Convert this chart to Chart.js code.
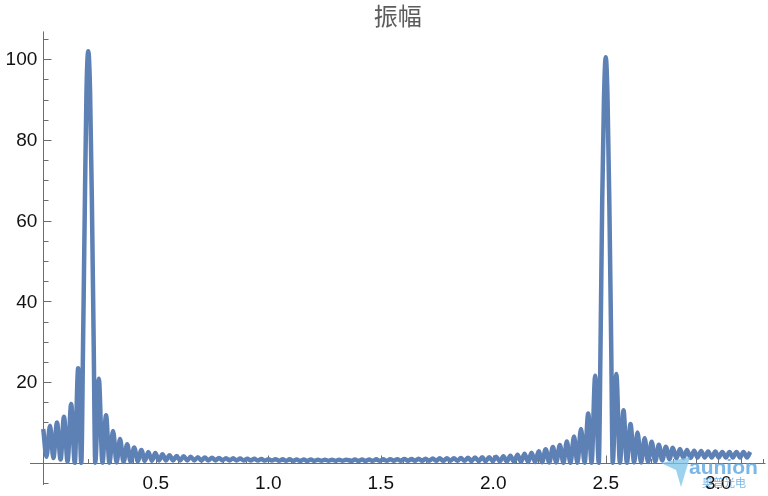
<!DOCTYPE html>
<html>
<head>
<meta charset="utf-8">
<script src="https://cdn.jsdelivr.net/npm/chart.js@4"></script>
<style>
  html, body { margin: 0; padding: 0; background: #fff; }
  #wrap { width: 768px; height: 496px; }
</style>
</head>
<body>
<div id="wrap"><canvas id="spectrum"></canvas></div>
<script>
// amplitude spectrum, split in four stretches
// up to and through the first peak (~0.2)
const lowFreq = [0, 0.014, 0.030, 0.045, 0.061, 0.077, 0.092, 0.108, 0.124, 0.140, 0.155, 0.169,
  0.177, 0.185, 0.192, 0.200, 0.208, 0.216, 0.224, 0.231];
const lowAmp = [8.4, 1.5, 9.2, 1.2, 10.0, 0.8, 11.4, 0.3, 14.6, 0, 23.4, 0,
  30, 65, 92, 102, 92, 65, 30, 0];

// tail on the right of the first peak
const midFreq = [0.247, 0.263, 0.279, 0.294, 0.310, 0.326, 0.341, 0.357, 0.373, 0.388,
  0.404, 0.420, 0.436, 0.451, 0.467, 0.483, 0.498, 0.514, 0.530, 0.545,
  0.561, 0.577, 0.593, 0.608, 0.624, 0.640, 0.655, 0.671, 0.687, 0.702,
  0.718, 0.734, 0.750, 0.765, 0.781, 0.797, 0.812, 0.828, 0.844, 0.859,
  0.875, 0.891, 0.907, 0.922, 0.938, 0.954, 0.969, 0.985, 1.001, 1.016,
  1.032, 1.048, 1.064, 1.079, 1.095, 1.111, 1.126, 1.142, 1.158, 1.173,
  1.189, 1.205, 1.221, 1.236, 1.252, 1.268, 1.283, 1.299, 1.315, 1.330, 1.346];
const midAmp = [20.8, 0, 11.8, 0, 7.9, 0.1, 5.9, 0.2, 4.6, 0.3,
  3.8, 0.4, 3.2, 0.5, 2.7, 0.5, 2.4, 0.6, 2.1, 0.6,
  1.9, 0.6, 1.7, 0.6, 1.6, 0.6, 1.5, 0.6, 1.4, 0.6,
  1.3, 0.6, 1.25, 0.6, 1.2, 0.6, 1.15, 0.6, 1.1, 0.6,
  1.05, 0.6, 1.0, 0.6, 1.0, 0.55, 0.95, 0.55, 0.9, 0.55,
  0.9, 0.5, 0.85, 0.5, 0.85, 0.5, 0.8, 0.5, 0.8, 0.5,
  0.8, 0.5, 0.75, 0.5, 0.75, 0.5, 0.75, 0.5, 0.75, 0.5, 0.75];

// rising side and second peak (~2.5)
const highFreq = [1.370, 1.385, 1.401, 1.417, 1.432, 1.448, 1.464, 1.480, 1.495, 1.511,
  1.527, 1.542, 1.558, 1.574, 1.589, 1.605, 1.621, 1.637, 1.652, 1.668,
  1.684, 1.699, 1.715, 1.731, 1.746, 1.762, 1.778, 1.794, 1.809, 1.825,
  1.841, 1.856, 1.872, 1.888, 1.903, 1.919, 1.935, 1.951, 1.966, 1.982,
  1.998, 2.013, 2.029, 2.045, 2.060, 2.076, 2.092, 2.108, 2.123, 2.139,
  2.155, 2.170, 2.186, 2.202, 2.217, 2.233, 2.249, 2.265, 2.280, 2.296,
  2.312, 2.327, 2.343, 2.359, 2.374, 2.390, 2.406, 2.422, 2.437, 2.453, 2.469,
  2.477, 2.484, 2.492, 2.500, 2.508, 2.516, 2.524, 2.531];
const highAmp = [0.5, 0.8, 0.5, 0.8, 0.5, 0.8, 0.5, 0.85, 0.5, 0.85,
  0.5, 0.9, 0.5, 0.9, 0.5, 0.95, 0.5, 0.95, 0.5, 1.0,
  0.5, 1.0, 0.5, 1.05, 0.5, 1.1, 0.5, 1.1, 0.5, 1.15,
  0.5, 1.2, 0.5, 1.25, 0.45, 1.3, 0.45, 1.35, 0.4, 1.4,
  0.4, 1.5, 0.35, 1.6, 0.3, 1.75, 0.3, 2.0, 0.25, 2.25,
  0.2, 2.5, 0.2, 2.85, 0.15, 3.35, 0.1, 3.9, 0.1, 4.4,
  0, 5.3, 0, 6.5, 0, 8.4, 0, 12.2, 0, 21.6, 0,
  30, 64, 90, 100.5, 90, 64, 30, 0];

// tail on the right of the second peak, up to pi
const topFreq = [2.547, 2.563, 2.579, 2.594, 2.610, 2.626, 2.641, 2.657, 2.673, 2.688,
  2.704, 2.720, 2.736, 2.751, 2.767, 2.783, 2.798, 2.814, 2.830, 2.845,
  2.861, 2.877, 2.893, 2.908, 2.924, 2.940, 2.955, 2.971, 2.987, 3.002,
  3.018, 3.034, 3.050, 3.065, 3.081, 3.097, 3.112, 3.128, 3.142];
const topAmp = [22.0, 0, 13.0, 0, 9.6, 0.1, 7.5, 0.1, 6.1, 0.2,
  5.2, 0.3, 4.5, 0.6, 4.0, 0.9, 3.7, 1.1, 3.4, 1.2,
  3.2, 1.2, 3.0, 1.3, 2.9, 1.3, 2.8, 1.3, 2.8, 1.3,
  2.7, 1.3, 2.7, 1.3, 2.7, 1.3, 2.7, 1.3, 2.7];

const xTicks = [0.5, 1.0, 1.5, 2.0, 2.5, 3.0];
const xTickLabels = ['0.5', '1.0', '1.5', '2.0', '2.5', '3.0'];
const yTicks = [20, 40, 60, 80, 100];
const yTickLabels = ['20', '40', '60', '80', '100'];

const freq = lowFreq.concat(midFreq, highFreq, topFreq);
const amp = lowAmp.concat(midAmp, highAmp, topAmp);
const points = freq.map((f, i) => ({x: f, y: amp[i]}));

const axisColor = '#6d6d6d';
const labelFont = '19px "Liberation Sans", Arial, sans-serif';

// Mathematica style axes crossing at the origin, ticks pointing inwards
const originAxes = {
    id: 'originAxes',
    beforeDatasetsDraw(chart) {
        const {ctx, chartArea: a, scales: {x, y}} = chart;
        const x0 = Math.round(x.getPixelForValue(0)) + 0.5;
        const y0 = Math.round(y.getPixelForValue(0)) + 0.5;
        ctx.save();
        ctx.strokeStyle = axisColor;
        ctx.lineWidth = 1;
        ctx.beginPath();
        ctx.moveTo(a.left, y0); ctx.lineTo(a.right, y0);
        ctx.moveTo(x0, a.top); ctx.lineTo(x0, a.bottom);
        // x ticks, minor every 0.1
        for (let i = 1; i <= 32; i++) {
            const px = Math.round(x.getPixelForValue(i / 10)) + 0.5;
            const len = i % 5 === 0 ? 8 : 4.5;
            ctx.moveTo(px, y0); ctx.lineTo(px, y0 - len);
        }
        // y ticks, minor every 5
        for (let v = -5; v <= 105; v += 5) {
            if (v === 0) continue;
            const py = Math.round(y.getPixelForValue(v)) + 0.5;
            const len = v % 20 === 0 ? 8 : 5;
            ctx.moveTo(x0, py); ctx.lineTo(x0 + len, py);
        }
        ctx.stroke();
        ctx.restore();
    },
    afterDraw(chart) {
        const {ctx, scales: {x, y}} = chart;
        const x0 = x.getPixelForValue(0);
        const y0 = y.getPixelForValue(0);
        ctx.save();
        ctx.font = labelFont;
        ctx.fillStyle = '#111';
        ctx.textAlign = 'center';
        ctx.textBaseline = 'top';
        xTicks.forEach((v, i) => ctx.fillText(xTickLabels[i], x.getPixelForValue(v), y0 + 11));
        ctx.textAlign = 'right';
        ctx.textBaseline = 'middle';
        yTicks.forEach((v, i) => ctx.fillText(yTickLabels[i], x0 - 6, y.getPixelForValue(v) + 1));

        // faint watermark in the corner
        ctx.globalAlpha = 0.75;
        ctx.fillStyle = '#7cc3ea';
        ctx.beginPath();
        ctx.moveTo(661, 463); ctx.lineTo(690, 457); ctx.lineTo(681, 487); ctx.lineTo(676, 470);
        ctx.closePath();
        ctx.fill();
        ctx.fillStyle = '#4d9ede';
        ctx.textAlign = 'left';
        ctx.textBaseline = 'alphabetic';
        ctx.font = 'bold 21px "Liberation Sans", Arial, sans-serif';
        ctx.fillText('aunion', 689, 474);
        ctx.font = '11px "Noto Sans CJK SC", sans-serif';
        ctx.fillText('奥普光电', 702, 487);
        ctx.restore();
    }
};

const ctx = document.getElementById('spectrum');

new Chart(ctx, {
    type: 'line',
    data: {
        datasets: [{
            data: points,
            borderColor: '#5e81b5',
            borderWidth: 4.5,
            pointRadius: 0,
            fill: false,
            cubicInterpolationMode: 'monotone'
        }]
    },
    options: {
        responsive: true,
        maintainAspectRatio: false,
        animation: false,
        layout: {
            padding: {left: 30, right: 2.5, top: 0, bottom: 11}
        },
        scales: {
            x: {type: 'linear', min: -0.059, max: 3.21, display: false},
            y: {min: -5.5, max: 106.9, display: false}
        },
        plugins: {
            legend: {display: false},
            tooltip: {enabled: false},
            title: {
                display: true,
                text: '振幅',
                fullSize: false,
                color: '#5c5c5c',
                font: {size: 24, family: '"Noto Sans CJK SC", sans-serif', weight: 'normal'},
                padding: {top: 1, bottom: 1.6}
            }
        }
    },
    plugins: [originAxes]
});
</script>
</body>
</html>
